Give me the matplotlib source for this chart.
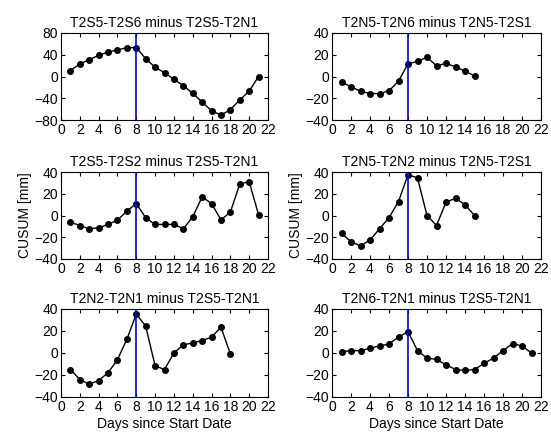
import matplotlib
matplotlib.use('Agg')
import matplotlib.pyplot as plt

plt.rcParams['font.family'] = ['Liberation Sans', 'DejaVu Sans']
plt.rcParams['font.size'] = 10

# CUSUM series, one per panel (day 1..n)
s5s6 = [11, 23, 31, 39, 45, 49, 53, 53, 33, 17, 7, -5, -17, -31, -47, -63, -71, -61, -43, -27, 0]
n5n6 = [-5, -9.5, -13.5, -15.7, -15.7, -13.2, -4.3, 11.7, 13.8, 17.8, 9.8, 12, 8.9, 4.9, 0.6]
s5s2 = [-6.1, -9.2, -12.2, -11.3, -8.2, -4.3, 4, 11, -2.1, -8.2, -8.2, -8.2, -12.2, -1.2,
        17.1, 11, -4, 3.1, 29, 31.1, 0.6]
n5n2 = [-16.5, -24.1, -28, -22.6, -12.2, -2.1, 12.8, 37.6, 34.5, 0, -9.2, 12.2, 15.9, 10, 0]
n2n1 = [-15, -24.1, -28.4, -25, -18, -6.1, 12.5, 35.4, 24.4, -11.6, -15, 0, 7.3, 9.2,
        11.3, 14.4, 23.5, -0.9]
n6n1 = [1.2, 2.1, 2.1, 4.3, 6.4, 8.2, 14.4, 19.5, 2.1, -4.6, -5.8, -10.7, -15, -15.9,
        -15, -9.5, -4.6, 2.1, 8.5, 6.4, 0]

titles = ['T2S5-T2S6 minus T2S5-T2N1', 'T2N5-T2N6 minus T2N5-T2S1',
          'T2S5-T2S2 minus T2S5-T2N1', 'T2N5-T2N2 minus T2N5-T2S1',
          'T2N2-T2N1 minus T2S5-T2N1', 'T2N6-T2N1 minus T2S5-T2N1']
series = [s5s6, n5n6, s5s2, n5n2, n2n1, n6n1]
change_day = 8

W, H = 551, 437
fig = plt.figure(figsize=(W / 100, H / 100), dpi=100)

# axes boxes in pixels: left, top, right, bottom
cols = [(61, 268), (332, 541)]
rows = [(33, 120), (172, 259), (309, 397)]

for i, (t, y) in enumerate(zip(titles, series)):
    r, c = divmod(i, 2)
    x0, x1 = cols[c]
    y0, y1 = rows[r]
    ax = fig.add_axes([x0 / W, 1 - y1 / H, (x1 - x0) / W, (y1 - y0) / H])
    days = list(range(1, len(y) + 1))
    ax.plot(days, y, '-o', color='black', lw=1, ms=4)
    ax.axvline(change_day, color='blue', lw=1.2)
    ax.set_xlim(0, 22)
    ax.set_xticks(range(0, 23, 2))
    if i == 0:
        ax.set_ylim(-80, 80)
        ax.set_yticks([-80, -40, 0, 40, 80])
    else:
        ax.set_ylim(-40, 40)
        ax.set_yticks([-40, -20, 0, 20, 40])
    ax.tick_params(direction='in', top=True, right=True, length=3, pad=2)
    ax.set_title(t, fontsize=10, pad=4)
    if r == 1:
        ax.set_ylabel('CUSUM [mm]', labelpad=2)
    if r == 2:
        ax.set_xlabel('Days since Start Date', labelpad=2)

fig.savefig('out.png', dpi=100)
